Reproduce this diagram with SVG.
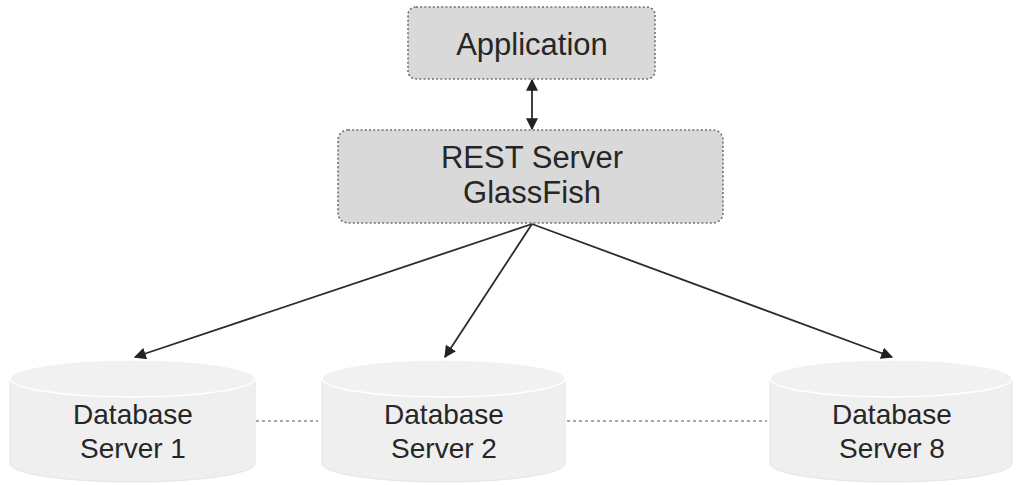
<svg xmlns="http://www.w3.org/2000/svg" width="1020" height="485" viewBox="0 0 1020 485">
<style>
.box{fill:#d9d9d9;stroke:#707070;stroke-width:1.6;stroke-dasharray:2 2.2}
.t{font-family:"Liberation Sans",Arial,sans-serif;fill:#262626;text-anchor:middle}
.big{font-size:31px}
.db{font-size:28px}
.cyl{fill:#efefef;stroke:#e4e4e4;stroke-width:1}
.top{fill:#f1f1f1;stroke:#ffffff;stroke-width:1.5}
.conn{stroke:#2b2b2b;stroke-width:1.8;fill:none}
.dot{stroke:#8a8a8a;stroke-width:1.3;stroke-dasharray:3 3;fill:none}
</style>
<defs>
<marker id="ah2" viewBox="0 0 10 10" refX="9" refY="5" markerWidth="12" markerHeight="12" orient="auto-start-reverse" markerUnits="userSpaceOnUse">
<path d="M0,0 L10,5 L0,10 z" fill="#222"/>
</marker>
</defs>
<g id="connectors">
<line class="conn" x1="532" y1="80" x2="532" y2="129" marker-start="url(#ah2)" marker-end="url(#ah2)"/>
<line class="conn" x1="532" y1="224" x2="135" y2="357" marker-end="url(#ah2)"/>
<line class="conn" x1="532" y1="224" x2="445" y2="357" marker-end="url(#ah2)"/>
<line class="conn" x1="532" y1="224" x2="892" y2="357" marker-end="url(#ah2)"/>
<line class="dot" x1="256" y1="421" x2="318" y2="421"/>
<line class="dot" x1="567" y1="421" x2="767" y2="421"/>
</g>
<g id="application">
<rect class="box" x="408" y="7" width="247" height="72" rx="8"/>
<text class="t big" x="532" y="55">Application</text>
</g>
<g id="rest-server">
<rect class="box" x="338" y="130" width="385" height="93" rx="10"/>
<text class="t big" x="532" y="168">REST Server</text>
<text class="t big" x="532" y="203">GlassFish</text>
</g>
<g id="db1">
<path class="cyl" d="M10,378.5 L10,463.5 A122.5,18.5 0 0 0 255,463.5 L255,378.5 z"/>
<ellipse class="top" cx="132.5" cy="378.5" rx="122.5" ry="18.5"/>
<text class="t db" x="133" y="424">Database</text>
<text class="t db" x="133" y="458">Server 1</text>
</g>
<g id="db2">
<path class="cyl" d="M322,378.5 L322,463.5 A121.5,18.5 0 0 0 565,463.5 L565,378.5 z"/>
<ellipse class="top" cx="443.5" cy="378.5" rx="121.5" ry="18.5"/>
<text class="t db" x="444" y="424">Database</text>
<text class="t db" x="444" y="458">Server 2</text>
</g>
<g id="db8">
<path class="cyl" d="M770,378.5 L770,463.5 A121,18.5 0 0 0 1012,463.5 L1012,378.5 z"/>
<ellipse class="top" cx="891" cy="378.5" rx="121" ry="18.5"/>
<text class="t db" x="892" y="424">Database</text>
<text class="t db" x="892" y="458">Server 8</text>
</g>
</svg>
